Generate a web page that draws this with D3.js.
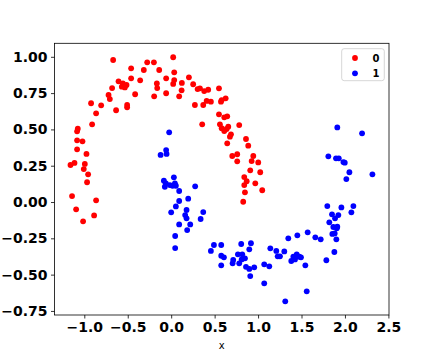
<!DOCTYPE html>
<html><head><meta charset="utf-8">
<script src="https://cdn.jsdelivr.net/npm/d3@7"></script>
<style>body{margin:0;background:#fff}svg{display:block}</style>
</head><body><svg id="c" width="432" height="360"></svg>
<script>
const xTicks=[-1.0,-0.5,0.0,0.5,1.0,1.5,2.0,2.5];
const yTicks=[-0.75,-0.5,-0.25,0.0,0.25,0.5,0.75,1.0];
const classLabels=["0","1"];
const class0X=[-0.668,-0.276,-0.199,0.023,-0.461,-0.315,-0.138,0.035,0.204,-0.461,-0.357,-0.606,-0.556,-0.514,-0.568,-0.533,-0.165,-0.058,0.035,0.023,0.123,-0.680,-0.161,0.120,0.253,-0.721,-0.706,-0.415,-0.196,-0.058,0.092,-0.922,-0.806,-0.507,-0.507,-0.634,-0.864,-0.910,-1.075,-1.083,-1.083,-1.021,-1.083,-0.975,-1.159,-1.113,-0.994,-1.006,-0.956,-0.968,-1.141,-0.864,-1.094,-0.887,-1.014,
0.304,0.331,0.380,0.426,0.550,0.273,0.369,0.408,0.457,0.581,0.627,0.573,0.550,0.611,0.645,0.357,0.561,0.581,0.657,0.638,0.611,0.688,0.676,0.783,0.861,0.887,0.645,0.703,0.760,0.760,0.945,0.926,1.002,0.910,1.025,0.841,0.869,0.841,0.968,0.849,1.048,0.829];
const class0Y=[0.978,0.962,0.962,0.997,0.921,0.909,0.909,0.893,0.859,0.852,0.838,0.831,0.817,0.806,0.794,0.789,0.817,0.852,0.840,0.813,0.820,0.785,0.785,0.769,0.811,0.737,0.709,0.742,0.728,0.749,0.728,0.680,0.666,0.668,0.652,0.632,0.611,0.535,0.505,0.487,0.425,0.418,0.363,0.331,0.255,0.269,0.262,0.227,0.191,0.136,0.041,0.012,-0.050,-0.092,-0.133,
0.778,0.783,0.764,0.773,0.783,0.668,0.668,0.696,0.691,0.702,0.714,0.691,0.604,0.583,0.590,0.535,0.535,0.508,0.519,0.503,0.489,0.466,0.450,0.530,0.434,0.388,0.404,0.317,0.329,0.280,0.317,0.282,0.273,0.218,0.205,0.172,0.143,0.117,0.129,0.067,0.081,0.002];
const class1X=[-0.023,-0.058,-0.053,-0.122,0.031,-0.084,-0.061,-0.073,-0.015,0.016,0.043,0.054,0.092,0.276,0.196,0.092,0.054,0.000,0.177,0.161,0.177,0.369,0.339,0.092,0.219,0.184,0.046,0.046,
0.492,0.576,0.457,0.576,0.607,0.576,0.806,0.918,0.899,0.768,0.818,0.849,0.811,0.714,0.707,0.783,0.861,0.899,0.956,0.910,1.071,1.071,1.129,1.141,1.210,1.252,1.226,1.302,1.348,1.452,1.571,1.406,1.445,1.475,1.494,1.425,1.382,1.544,1.313,1.560,
1.659,1.721,1.786,1.878,1.901,1.855,1.882,1.866,1.912,1.906,1.820,1.851,1.886,1.924,1.797,1.959,2.097,2.074,1.912,2.197,1.809,1.897,1.929,1.982,1.998,2.051,2.016,2.316];
const class1Y=[0.480,0.358,0.331,0.324,0.170,0.147,0.129,0.105,0.117,0.112,0.129,0.112,0.076,0.108,0.023,0.007,-0.030,-0.071,-0.055,-0.090,-0.112,-0.069,-0.117,-0.154,-0.154,-0.193,-0.234,-0.317,
-0.296,-0.296,-0.337,-0.370,-0.381,-0.436,-0.289,-0.284,-0.326,-0.360,-0.360,-0.388,-0.395,-0.399,-0.422,-0.422,-0.446,-0.461,-0.450,-0.510,-0.560,-0.429,-0.443,-0.319,-0.337,-0.374,-0.374,-0.340,-0.250,-0.229,-0.209,-0.377,-0.360,-0.377,-0.381,-0.395,-0.406,-0.436,-0.684,-0.615,
-0.243,-0.257,-0.401,-0.344,-0.257,-0.220,-0.216,-0.172,-0.170,-0.181,-0.140,-0.085,-0.112,-0.090,-0.028,-0.037,-0.028,-0.071,0.514,0.473,0.315,0.301,0.301,0.275,0.271,0.205,0.158,0.191];
const colors=["#ff0000","#0000ff"];

const svg=d3.select("#c");
const L=54.5,R=389,T=43.3,B=315;
const x=d3.scaleLinear().domain([-1.343,2.507]).range([L,R]);
const y=d3.scaleLinear().domain([-0.778,1.093]).range([B,T]);
const font="DejaVu Sans";

const series=[class0X.map((v,i)=>[v,class0Y[i]]),class1X.map((v,i)=>[v,class1Y[i]])];
series.forEach((pts,k)=>{
  svg.append("g").selectAll("circle").data(pts).join("circle")
    .attr("cx",d=>x(d[0])).attr("cy",d=>y(d[1])).attr("r",2.9).attr("fill",colors[k]);
});

const fmt2=d=>d.toFixed(2).replace("-","\u2212");
const fmt1=d=>d.toFixed(1).replace("-","\u2212");
const gx=svg.append("g").attr("transform",`translate(0,${B})`)
  .call(d3.axisBottom(x).tickValues(xTicks).tickFormat(fmt1).tickSizeOuter(0).tickSize(3.5).tickPadding(3.5));
const gy=svg.append("g").attr("transform",`translate(${L},0)`)
  .call(d3.axisLeft(y).tickValues(yTicks).tickFormat(fmt2).tickSizeOuter(0).tickSize(3.5).tickPadding(3.5));
[gx,gy].forEach(g=>{
  g.select(".domain").remove();
  g.selectAll("line").attr("stroke","#000").attr("stroke-width",0.8);
  g.selectAll("text").attr("font-family",font).attr("font-weight","bold").attr("font-size",14).attr("fill","#000");
});
svg.append("rect").attr("x",L).attr("y",T).attr("width",R-L).attr("height",B-T)
  .attr("fill","none").attr("stroke","#000").attr("stroke-width",0.8);

svg.append("text").attr("x",(L+R)/2).attr("y",349).attr("text-anchor","middle")
  .attr("font-family",font).attr("font-size",10).attr("fill","#000").text("x");

const lg=svg.append("g");
lg.append("rect").attr("x",341.7).attr("y",48.7).attr("width",42.6).attr("height",32).attr("rx",2.5)
  .attr("fill","#fff").attr("fill-opacity",0.8).attr("stroke","#cccccc").attr("stroke-width",0.8);
classLabels.forEach((lab,i)=>{
  lg.append("circle").attr("cx",355).attr("cy",58+i*15.3).attr("r",2.9).attr("fill",colors[i]);
  lg.append("text").attr("x",372.5).attr("y",58+i*15.3).attr("dy","0.36em")
    .attr("font-family",font).attr("font-weight","bold").attr("font-size",10).attr("fill","#000").text(lab);
});
</script></body></html>
